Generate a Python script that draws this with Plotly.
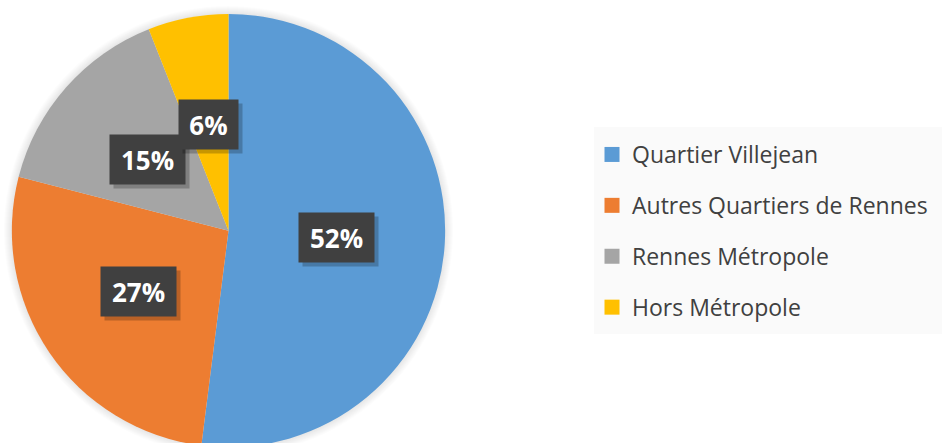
import math
import plotly.graph_objects as go

categories = ["Quartier Villejean", "Autres Quartiers de Rennes", "Rennes Métropole", "Hors Métropole"]
values = [52, 27, 15, 6]
colors = ["#5B9BD5", "#ED7D31", "#A5A5A5", "#FFC000"]

W, H = 942, 448
dom_x = [11.7 / W, 445.3 / W]
dom_y = [(H - 447.3) / H, (H - 14.0) / H]

fig = go.Figure()
fig.add_trace(go.Pie(
    labels=categories, values=values, sort=False, direction="clockwise", rotation=0,
    marker=dict(colors=colors, line=dict(width=0)),
    textinfo="none", hoverinfo="label+percent", showlegend=False,
    domain=dict(x=dom_x, y=dom_y),
))

# legend entries (dummy traces so that spacing can be controlled)
for cat, col in zip(categories, colors):
    fig.add_trace(go.Scatter(
        x=[None], y=[None], mode="markers", name=cat, legendgroup=cat,
        marker=dict(symbol="square", size=15, color=col),
    ))

# data labels at half radius along each slice bisector
cx = (dom_x[0] + dom_x[1]) / 2 * W
cy = (dom_y[0] + dom_y[1]) / 2 * H
r = min((dom_x[1] - dom_x[0]) * W, (dom_y[1] - dom_y[0]) * H) / 2
total = sum(values)
cum = 0
annotations = []
for v in values:
    mid = (cum + v / 2) / total * 2 * math.pi
    cum += v
    px = cx + 0.5 * r * math.sin(mid)
    py = cy + 0.5 * r * math.cos(mid)
    txt = f"{round(v / total * 100)}%"
    bw = 25 + 16 * len(txt)
    common = dict(x=px / W, y=py / H, xref="paper", yref="paper", showarrow=False,
                  width=bw, height=47, xanchor="center", yanchor="middle")
    annotations.append(dict(text="", bgcolor="rgba(0,0,0,0.22)", xshift=4, yshift=-4, **common))
    annotations.append(dict(text=f"<b>{txt}</b>", bgcolor="#404040",
                            font=dict(family="Open Sans", size=26, color="white"), **common))

# soft halo around the pie
shapes = []
for k in range(1, 9):
    rr = r + k
    shapes.append(dict(type="circle", xref="paper", yref="paper",
                       x0=(cx - rr) / W, x1=(cx + rr) / W, y0=(cy - rr) / H, y1=(cy + rr) / H,
                       fillcolor="rgba(0,0,0,0.012)", line=dict(width=0), layer="below"))
shapes.append(dict(type="rect", xref="paper", yref="paper", x0=594 / W, x1=1.0,
                   y0=1 - 334 / H, y1=1 - 127 / H, fillcolor="#FAFAFA", line=dict(width=0), layer="below"))

fig.update_layout(
    width=W, height=H, margin=dict(l=0, r=0, t=0, b=0),
    paper_bgcolor="white", plot_bgcolor="white",
    xaxis=dict(visible=False), yaxis=dict(visible=False),
    annotations=annotations,
    shapes=shapes,
    legend=dict(x=592 / W, y=1 - 133 / H, xanchor="left", yanchor="top",
                bgcolor="rgba(0,0,0,0)", traceorder="grouped", tracegroupgap=18,
                font=dict(family="Open Sans", size=23, color="#404040")),
)

fig.write_html("out.html", config={"displayModeBar": False},
               post_script="document.body.style.margin='0';document.body.style.overflow='hidden';")
